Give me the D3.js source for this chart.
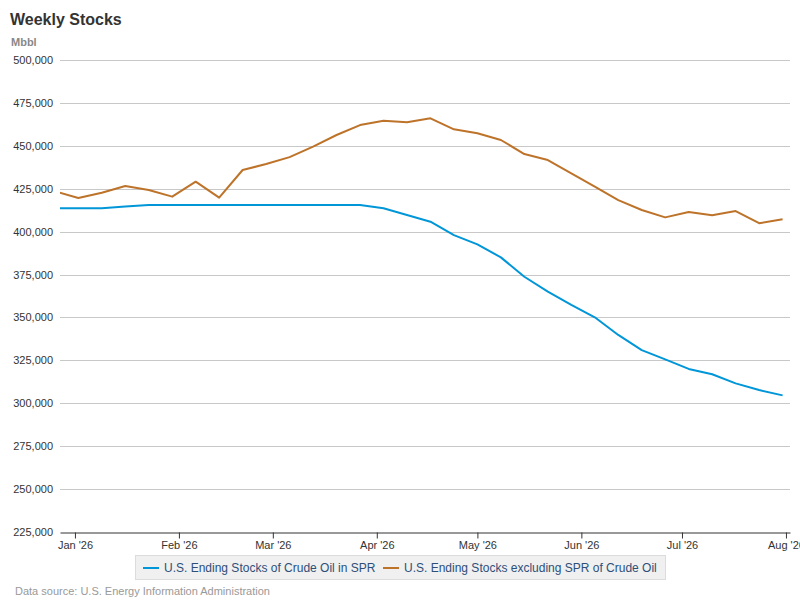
<!DOCTYPE html>
<html>
<head>
<meta charset="UTF-8">
<title>Weekly Stocks</title>
<script src="https://d3js.org/d3.v7.min.js"></script>
<style>
  body {
    margin: 0;
    padding: 0;
    background: #fff;
    font-family: "Liberation Sans", Arial, sans-serif;
  }
  .grid line {
    stroke: #c8c8c8;
    stroke-width: 1px;
  }
  .tick text {
    font-family: "Liberation Sans", Arial, sans-serif;
  }
</style>
</head>
<body>
<div id="chart"></div>
<script>
// Weekly dates (Fridays)
const dates = [
  "2025-12-26", "2026-01-02", "2026-01-09", "2026-01-16", "2026-01-23", "2026-01-30",
  "2026-02-06", "2026-02-13", "2026-02-20", "2026-02-27", "2026-03-06", "2026-03-13",
  "2026-03-20", "2026-03-27", "2026-04-03", "2026-04-10", "2026-04-17", "2026-04-24",
  "2026-05-01", "2026-05-08", "2026-05-15", "2026-05-22", "2026-05-29", "2026-06-05",
  "2026-06-12", "2026-06-19", "2026-06-26", "2026-07-03", "2026-07-10", "2026-07-17",
  "2026-07-24", "2026-07-31"
];

// U.S. Ending Stocks of Crude Oil in SPR (Mbbl)
const sprValues = [
  413600, 413600, 413600, 414700, 415500, 415500,
  415500, 415500, 415500, 415500, 415500, 415500,
  415500, 415500, 413600, 409700, 405800, 398000,
  392600, 385000, 373700, 365000, 357300, 350100,
  339800, 331000, 325600, 320000, 316900, 311600,
  307700, 304600
];

// U.S. Ending Stocks excluding SPR of Crude Oil (Mbbl)
const exSprValues = [
  423500, 419600, 422700, 426600, 424300, 420400,
  429100, 419800, 435900, 439400, 443400, 449500,
  456300, 462100, 464600, 463700, 466000, 459600,
  457300, 453400, 445200, 441700, 434000, 426200,
  418400, 412600, 408300, 411400, 409500, 412000,
  404900, 407200
];

const seriesNames = [
  "U.S. Ending Stocks of Crude Oil in SPR",
  "U.S. Ending Stocks excluding SPR of Crude Oil"
];
const seriesColors = ["#0096d7", "#bd732a"];

const yTicks = [225000, 250000, 275000, 300000, 325000, 350000, 375000, 400000, 425000, 450000, 475000, 500000];
const xTickDates = ["2026-01-01", "2026-02-01", "2026-03-01", "2026-04-01", "2026-05-01", "2026-06-01", "2026-07-01", "2026-08-01"];

const width = 800;
const height = 600;
const margin = { top: 60, right: 10, bottom: 68, left: 60 };

const parse = d3.utcParse("%Y-%m-%d");

const svg = d3.select("#chart")
  .append("svg")
  .attr("width", width)
  .attr("height", height);

const x = d3.scaleUtc()
  .domain([new Date(Date.UTC(2025, 11, 27, 13)), new Date(Date.UTC(2026, 7, 2, 5))])
  .range([margin.left, width - margin.right]);

const y = d3.scaleLinear()
  .domain([225000, 500000])
  .range([height - margin.bottom, margin.top]);

// Title and unit
svg.append("text")
  .attr("x", 10).attr("y", 25)
  .attr("font-size", 16).attr("font-weight", "bold")
  .attr("fill", "#333")
  .text("Weekly Stocks");

svg.append("text")
  .attr("x", 11).attr("y", 46)
  .attr("font-size", 11).attr("font-weight", "bold")
  .attr("fill", "#888")
  .text("Mbbl");

// Gridlines
svg.append("g")
  .attr("class", "grid")
  .selectAll("line")
  .data(yTicks.filter(d => d > 225000))
  .enter()
  .append("line")
  .attr("x1", margin.left)
  .attr("x2", width - margin.right)
  .attr("y1", d => Math.round(y(d)) + 0.5)
  .attr("y2", d => Math.round(y(d)) + 0.5);

// Y axis labels
const yAxis = svg.append("g")
  .attr("transform", `translate(${margin.left},0)`)
  .call(d3.axisLeft(y).tickValues(yTicks).tickFormat(d3.format(",")).tickSize(0).tickPadding(7));
yAxis.select(".domain").remove();
yAxis.selectAll("text").attr("font-size", 11).attr("fill", "#333");

// X axis
const xAxis = svg.append("g")
  .attr("transform", `translate(0,${Math.round(y(225000)) + 0.5})`)
  .call(d3.axisBottom(x)
    .tickValues(xTickDates.map(parse))
    .tickFormat(d3.utcFormat("%b '%y"))
    .tickSizeInner(6).tickSizeOuter(0).tickPadding(3));
xAxis.select(".domain").attr("stroke", "#333");
xAxis.selectAll(".tick line").attr("stroke", "#333");
xAxis.selectAll("text").attr("font-size", 11).attr("fill", "#333");

// Clip to plot area
svg.append("clipPath").attr("id", "plot-clip")
  .append("rect")
  .attr("x", margin.left).attr("y", margin.top - 5)
  .attr("width", width - margin.left - margin.right)
  .attr("height", height - margin.top - margin.bottom + 10);

const line = d3.line()
  .x((d, i) => x(parse(dates[i])))
  .y(d => y(d));

const plot = svg.append("g").attr("clip-path", "url(#plot-clip)");

[sprValues, exSprValues].forEach((vals, i) => {
  plot.append("path")
    .datum(vals)
    .attr("fill", "none")
    .attr("stroke", seriesColors[i])
    .attr("stroke-width", 2)
    .attr("stroke-linejoin", "round")
    .attr("d", line);
});

// Legend
const legend = svg.append("g");
legend.append("rect")
  .attr("x", 135.5).attr("y", 555.5)
  .attr("width", 530).attr("height", 24)
  .attr("fill", "#f0f0f0")
  .attr("stroke", "#dcdcdc");

const legendX = [143, 383];
seriesNames.forEach((name, i) => {
  legend.append("line")
    .attr("x1", legendX[i]).attr("x2", legendX[i] + 16)
    .attr("y1", 568).attr("y2", 568)
    .attr("stroke", seriesColors[i])
    .attr("stroke-width", 2);
  legend.append("text")
    .attr("x", legendX[i] + 21).attr("y", 572)
    .attr("font-size", 12)
    .attr("fill", "#2d4f7a")
    .text(name);
});

// Source
svg.append("text")
  .attr("x", 15).attr("y", 595)
  .attr("font-size", 11)
  .attr("fill", "#999")
  .text("Data source: U.S. Energy Information Administration");
</script>
</body>
</html>
